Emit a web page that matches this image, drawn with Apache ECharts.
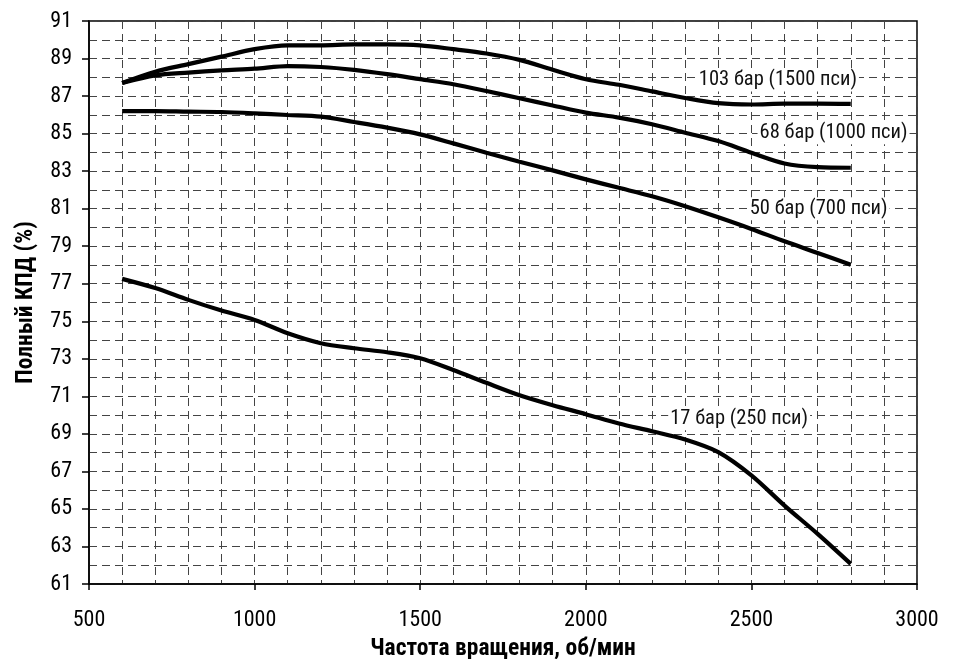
<!DOCTYPE html>
<html>
<head>
<meta charset="utf-8">
<script src="https://cdn.jsdelivr.net/npm/echarts@6/dist/echarts.min.js"></script>
<style>
html,body{margin:0;padding:0;background:#fff;}
#chart{width:956px;height:659px;}
</style>
</head>
<body>
<div id="chart"></div>
<script>
// ---- data ----
var rpm = [600,700,800,900,1000,1100,1200,1300,1400,1500,1600,1700,1800,1900,2000,2100,2200,2300,2400,2500,2600,2700,2800];
var eff103 = [87.7,88.3,88.7,89.1,89.5,89.7,89.7,89.75,89.75,89.7,89.5,89.27,88.93,88.4,87.9,87.6,87.25,86.9,86.62,86.55,86.6,86.6,86.58];
var eff68  = [87.7,88.1,88.25,88.37,88.46,88.6,88.55,88.4,88.17,87.9,87.63,87.27,86.88,86.5,86.12,85.85,85.5,85.05,84.6,83.98,83.41,83.21,83.18];
var eff50  = [86.2,86.2,86.17,86.15,86.08,85.99,85.9,85.62,85.32,84.96,84.48,83.98,83.5,83.04,82.56,82.11,81.66,81.13,80.54,79.92,79.26,78.64,78.01];
var eff17  = [77.26,76.77,76.14,75.57,75.07,74.36,73.83,73.56,73.35,73.03,72.4,71.72,71.06,70.53,70.05,69.55,69.14,68.7,68.03,66.79,65.18,63.67,62.07];
var seriesNames = ['103 бар (1500 пси)','68 бар (1000 пси)','50 бар (700 пси)','17 бар (250 пси)'];
var xTitle = 'Частота вращения, об/мин';
var yTitle = 'Полный КПД (%)';

var FONT = "'Liberation Sans Narrow','Roboto Condensed','DejaVu Sans Condensed','Arial Narrow',sans-serif";
var dash = {color:'#444', width:1, type:[8,5]};

function pairs(ys){ return rpm.map(function(x,i){return [x, ys[i]];}); }

function mkSeries(name, ys, labelCoord){
  return {
    name: name,
    type: 'line',
    data: pairs(ys),
    smooth: 0.3,
    showSymbol: false,
    lineStyle: {color:'#000', width:4.2},
    itemStyle: {color:'#000'},
    z: 5,
    markPoint: {
      symbol: 'circle',
      symbolSize: 1,
      itemStyle: {color:'rgba(0,0,0,0)'},
      label: {
        show: true,
        position: 'inside',
        formatter: name,
        color: '#111',
        fontFamily: FONT,
        fontSize: 20.5,
        backgroundColor: '#fff',
        padding: [1,2]
      },
      data: [{coord: labelCoord}]
    }
  };
}

var chart = echarts.init(document.getElementById('chart'), null, {renderer:'canvas'});
chart.setOption({
  animation: false,
  backgroundColor: '#fff',
  grid: {left: 89, right: 39, top: 21, bottom: 75, show: true, borderColor: '#000', borderWidth: 1.5, containLabel: false, outerBoundsMode: 'none'},
  xAxis: {
    type: 'value', min: 500, max: 3000, interval: 500,
    name: xTitle, nameLocation: 'middle', nameGap: 53,
    nameTextStyle: {fontFamily: FONT, fontSize: 23.5, fontWeight: 'bold', color: '#000'},
    axisLine: {show: true, lineStyle: {color: '#000', width: 1.5}},
    axisTick: {show: true, length: 6, lineStyle: {color: '#000', width: 1.5}},
    axisLabel: {fontFamily: FONT, fontSize: 22, color: '#000', margin: 25, formatter: function(v){return String(v);}},
    splitLine: {show: true, lineStyle: dash},
    minorTick: {show: false, splitNumber: 5},
    minorSplitLine: {show: true, lineStyle: dash}
  },
  yAxis: {
    type: 'value', min: 61, max: 91, interval: 2,
    name: yTitle, nameLocation: 'middle', nameGap: 51,
    nameTextStyle: {fontFamily: FONT, fontSize: 23.5, fontWeight: 'bold', color: '#000'},
    axisLine: {show: true, lineStyle: {color: '#000', width: 1.5}},
    axisTick: {show: true, length: 7, lineStyle: {color: '#000', width: 1.5}},
    axisLabel: {fontFamily: FONT, fontSize: 22, color: '#000', margin: 17},
    splitLine: {show: true, lineStyle: dash},
    minorTick: {show: false, splitNumber: 2},
    minorSplitLine: {show: true, lineStyle: dash}
  },
  series: [
    mkSeries(seriesNames[0], eff103, [2580, 87.85]),
    mkSeries(seriesNames[1], eff68, [2748, 85.05]),
    mkSeries(seriesNames[2], eff50, [2703, 81.0]),
    mkSeries(seriesNames[3], eff17, [2463, 69.8])
  ]
});
</script>
</body>
</html>
